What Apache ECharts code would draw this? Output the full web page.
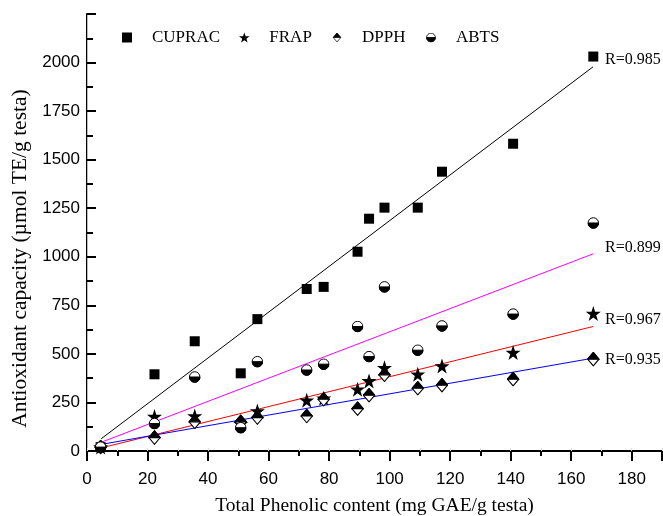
<!DOCTYPE html>
<html>
<head>
<meta charset="utf-8">
<script src="https://cdn.jsdelivr.net/npm/echarts@6/dist/echarts.min.js"></script>
<style>
html, body { margin: 0; padding: 0; background: #fff; }
#chart { width: 663px; height: 516px; }
</style>
</head>
<body>
<div id="chart"></div>
<script>
// total phenolic content of each sample (mg GAE/g testa)
const phenolic = [4.5, 22.3, 35.6, 50.8, 56.3, 72.6, 78.2, 89.4, 93.2, 98.3, 109.3, 117.3, 140.8, 167.3];

// antioxidant capacity (umol TE/g testa)
const cuprac = [20, 395, 565, 400, 679, 834, 845, 1026, 1196, 1253, 1253, 1438, 1582, 2031];
const frap = [20, 178, 180, 140, 206, 261, 272, 318, 361, 429, 395, 438, 507, 708];
const dpph = [20, 69, 150, 150, 172, 180, 266, 218, 287, 392, 323, 339, 370, 473];
const abts = [20, 141, 381, 120, 460, 417, 447, 641, 486, 845, 519, 644, 705, 1174];

// fitted lines, read at their two ends
const fitX = [4.7, 167.2];
const cupracFit = [63, 1978];
const frapFit = [16, 641];
const dpphFit = [34, 478];
const abtsFit = [45, 1015];

const rLabels = ["R=0.985", "R=0.967", "R=0.935", "R=0.899"];

const legendNames = ["CUPRAC", "FRAP", "DPPH", "ABTS"];
const legendLeft = [117, 234, 312, 406];

const xTicks = { min: 0, max: 190, interval: 20 };
const yTicks = { min: 0, max: 2250, interval: 250 };

function pairs(xs, ys) {
  return xs.map((x, i) => [x, ys[i]]);
}

function svgIcon(s) {
  return "image://data:image/svg+xml;charset=utf-8," + encodeURIComponent(s);
}

const squarePath = "path://M0,0 L10,0 L10,10 L0,10 Z";
const starPath = "path://M50,0 L61.8,35.1 L98.9,35.1 L69.1,56.7 L80.3,91.9 L50,70.5 L19.7,91.9 L30.9,56.7 L1.1,35.1 L38.2,35.1 Z";
const diamondIcon = svgIcon(
  "<svg xmlns='http://www.w3.org/2000/svg' width='48' height='56' viewBox='0 0 24 28'>"
  + "<path d='M12 1.5 L22.5 14 L12 26.5 L1.5 14 Z' fill='white' stroke='black' stroke-width='2'/>"
  + "<path d='M12 1.5 L22.5 14 L1.5 14 Z' fill='black' stroke='black' stroke-width='2'/></svg>"
);
const circleIcon = svgIcon(
  "<svg xmlns='http://www.w3.org/2000/svg' width='48' height='48' viewBox='0 0 24 24'>"
  + "<circle cx='12' cy='12' r='10.5' fill='white' stroke='black' stroke-width='2'/>"
  + "<path d='M1.5 12 A10.5 10.5 0 0 0 22.5 12 Z' fill='black' stroke='black' stroke-width='2'/></svg>"
);

const serif = "Liberation Serif";
const sans = "Liberation Sans";

var chart = echarts.init(document.getElementById("chart"), null, { renderer: "canvas" });

function fitLine(name, data, color, label, dy) {
  return {
    name: name,
    type: "line",
    data: data,
    showSymbol: false,
    silent: true,
    z: 1,
    lineStyle: { color: color, width: 1 },
    endLabel: {
      show: true,
      formatter: label,
      color: "#000",
      fontFamily: serif,
      fontSize: 16,
      offset: [4, dy],
    },
  };
}

function dots(name, data, symbol, size) {
  return {
    name: name,
    type: "scatter",
    data: data,
    symbol: symbol,
    symbolSize: size,
    z: 5,
    itemStyle: { color: "#000", opacity: 1 },
  };
}

var option = {
  animation: false,
  backgroundColor: "#fff",
  grid: { left: 87, right: 1, top: 14, bottom: 65, outerBoundsMode: "none", containLabel: false },
  legend: legendNames.map((name, i) => ({
    data: [name],
    left: legendLeft[i],
    top: 24,
    itemWidth: 40,
    itemHeight: 10,
    textStyle: { fontFamily: serif, fontSize: 17, color: "#000" },
  })),
  xAxis: [
    {
      type: "value",
      min: xTicks.min,
      max: xTicks.max,
      interval: xTicks.interval,
      name: "Total Phenolic content (mg GAE/g testa)",
      nameLocation: "middle",
      nameGap: 45,
      nameTextStyle: { fontFamily: serif, fontSize: 19.5, color: "#000" },
      axisLine: { lineStyle: { color: "#000", width: 2 } },
      axisTick: { length: 10, lineStyle: { color: "#000", width: 2 } },
      minorTick: { show: true, splitNumber: 2, length: 5, lineStyle: { color: "#000", width: 2 } },
      axisLabel: { fontFamily: sans, fontSize: 17, color: "#000", margin: 20, showMaxLabel: false },
      splitLine: { show: false },
    },
    {
      type: "value",
      position: "top",
      min: xTicks.min,
      max: xTicks.max,
      interval: 10,
      axisLine: { lineStyle: { color: "#000", width: 2 } },
      axisTick: { length: 3, lineStyle: { color: "#ddd", width: 1 } },
      axisLabel: { show: false },
      splitLine: { show: false },
    },
  ],
  yAxis: [
    {
      type: "value",
      min: yTicks.min,
      max: yTicks.max,
      interval: yTicks.interval,
      name: "Antioxidant capacity (\u00b5mol TE/g testa)",
      nameLocation: "middle",
      nameGap: 55,
      nameTextStyle: { fontFamily: serif, fontSize: 21.5, color: "#000", padding: [0, 52, 0, 0] },
      axisLine: { lineStyle: { color: "#000", width: 2 } },
      axisTick: { inside: true, length: 9, lineStyle: { color: "#000", width: 2 } },
      minorTick: { show: true, splitNumber: 2, length: 6, lineStyle: { color: "#000", width: 2 } },
      axisLabel: {
        fontFamily: sans,
        fontSize: 17,
        color: "#000",
        margin: 7,
        showMaxLabel: false,
        formatter: function(v) {
          return String(v);
        },
      },
      splitLine: { show: false },
    },
    {
      type: "value",
      position: "right",
      min: yTicks.min,
      max: yTicks.max,
      axisLine: { show: true, lineStyle: { color: "#bbb", width: 1 } },
      axisTick: { show: false },
      axisLabel: { show: false },
      splitLine: { show: false },
    },
  ],
  series: [
    fitLine("CUPRAC fit", pairs(fitX, cupracFit), "#000", rLabels[0], -7),
    fitLine("FRAP fit", pairs(fitX, frapFit), "#ff0000", rLabels[1], -7),
    fitLine("DPPH fit", pairs(fitX, dpphFit), "#0000ff", rLabels[2], 2),
    fitLine("ABTS fit", pairs(fitX, abtsFit), "#ff00ff", rLabels[3], -6),
    dots("CUPRAC", pairs(phenolic, cuprac), squarePath, 10),
    dots("FRAP", pairs(phenolic, frap), starPath, 15),
    dots("DPPH", pairs(phenolic, dpph), diamondIcon, [13, 15]),
    dots("ABTS", pairs(phenolic, abts), circleIcon, 12),
  ],
};

chart.setOption(option);

window.addEventListener("resize", function() {
  chart.resize();
});
</script>
</body>
</html>
